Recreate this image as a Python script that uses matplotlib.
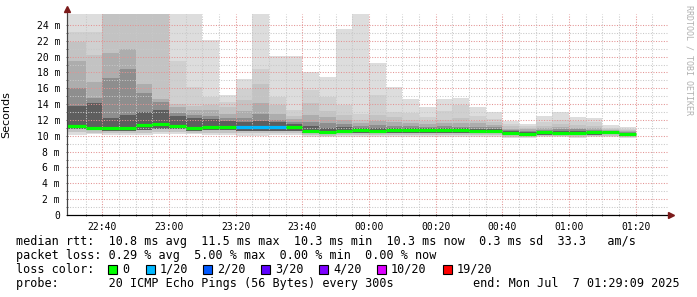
import numpy as np
import matplotlib.pyplot as plt
from matplotlib.lines import Line2D
from matplotlib.patches import Rectangle

# 5-minute columns, 22:30 .. 01:20 (x in minutes after 22:00)
x_left, x_right = 29.4, 209.7
edges = [x_left] + list(range(35, 201, 5))

# smoke layers: upper edges (outer -> inner) in ms
up1 = [25.4, 25.4, 25.4, 25.4, 25.4, 25.4, 25.4, 25.4, 22.1, 15.2, 17.2, 25.4, 20.1, 20.1, 18.1, 17.4, 23.5,
       25.4, 19.2, 16.2, 14.6, 13.7, 14.6, 14.8, 13.6, 13.0, 11.9, 11.5, 12.5, 13.0, 12.4, 12.3, 11.4, 11.1]
up2 = [23.1, 23.1, 25.4, 25.4, 25.4, 25.4, 19.5, 16.2, 14.9, 14.3, 15.9, 18.4, 14.9, 13.2, 15.8, 14.9, 13.9,
       12.7, 15.1, 13.0, 12.9, 12.4, 13.1, 13.9, 12.5, 12.1, 11.5, 11.2, 11.8, 12.0, 11.9, 11.8, 11.0, 10.9]
up3 = [21.8, 20.2, 25.4, 25.4, 25.4, 25.4, 14.0, 13.8, 13.9, 13.6, 14.5, 16.6, 13.9, 12.5, 14.2, 13.1, 12.6,
       12.0, 12.6, 12.4, 12.0, 11.9, 12.0, 12.2, 11.9, 11.7, 11.2, 11.0, 11.3, 11.5, 11.4, 11.3, 10.8, 10.7]
up4 = [19.5, 16.8, 20.5, 21.0, 16.6, 14.7, 13.6, 13.3, 13.3, 12.7, 13.1, 14.2, 12.8, 12.1, 12.6, 12.4, 12.0,
       11.6, 11.9, 11.8, 11.6, 11.5, 11.6, 11.6, 11.6, 11.4, 10.9, 10.8, 11.0, 11.1, 11.0, 11.0, 10.7, 10.6]
up5 = [16.1, 14.8, 17.3, 18.4, 15.4, 14.3, 12.9, 12.6, 12.5, 12.2, 12.3, 12.8, 12.0, 11.7, 11.8, 11.6, 11.5,
       11.3, 11.4, 11.3, 11.2, 11.1, 11.2, 11.1, 11.1, 11.1, 10.7, 10.6, 10.7, 10.8, 10.8, 10.7, 10.6, 10.5]
up6 = [13.8, 14.1, 12.3, 12.6, 13.0, 13.3, 12.5, 12.2, 12.1, 11.9, 11.7, 11.9, 11.7, 11.5, 11.2, 11.0, 11.1,
       11.0, 11.0, 11.0, 10.95, 10.95, 10.95, 10.95, 10.9, 10.9, 10.6, 10.5, 10.6, 10.6, 10.6, 10.6, 10.55, 10.4]
# lower edges
lo1 = [10.1, 10.2, 10.1, 10.1, 10.1, 10.2, 10.2, 10.2, 10.1, 10.1, 10.0, 10.0, 10.1, 10.1, 9.9, 9.8, 9.9,
       9.9, 9.9, 9.9, 9.9, 9.9, 9.9, 9.9, 9.9, 9.9, 9.7, 9.7, 9.8, 9.8, 9.7, 9.8, 9.8, 9.7]
lo3 = [10.5, 10.4, 10.3, 10.3, 10.4, 10.5, 10.5, 10.4, 10.4, 10.4, 10.3, 10.3, 10.3, 10.4, 10.1, 10.0, 10.1,
       10.1, 10.1, 10.1, 10.1, 10.1, 10.1, 10.1, 10.1, 10.1, 9.9, 9.9, 10.0, 10.0, 9.9, 10.0, 10.0, 9.9]
lo5 = [10.8, 10.7, 10.6, 10.6, 10.7, 10.8, 10.8, 10.6, 10.7, 10.7, 10.6, 10.6, 10.6, 10.6, 10.3, 10.2, 10.3,
       10.3, 10.3, 10.3, 10.3, 10.3, 10.3, 10.3, 10.3, 10.3, 10.1, 10.0, 10.1, 10.1, 10.1, 10.1, 10.2, 10.0]
median = [11.25, 10.97, 11.0, 11.0, 11.33, 11.55, 11.2, 10.97, 11.15, 11.12, 11.12, 11.12, 11.12, 11.1, 10.65,
          10.5, 10.65, 10.7, 10.65, 10.7, 10.7, 10.7, 10.7, 10.7, 10.65, 10.65, 10.4, 10.27, 10.45, 10.4, 10.4,
          10.45, 10.45, 10.27]
loss = [0] * 10 + [1, 1, 1] + [0] * 21

loss_levels = [0, 1, 2, 3, 4, 10, 19]
loss_labels = ['0', '1/20', '2/20', '3/20', '4/20', '10/20', '19/20']
loss_cols = ['#00ff00', '#00b8ff', '#0059ff', '#5e00ff', '#7e00ff', '#dd00ff', '#ff0000']

xticks = [40, 60, 80, 100, 120, 140, 160, 180, 200]
xticklabels = ['22:40', '23:00', '23:20', '23:40', '00:00', '00:20', '00:40', '01:00', '01:20']

W, H = 697, 297
fig = plt.figure(figsize=(W / 100, H / 100), dpi=100)
ax = fig.add_axes([67 / W, 82 / H, 601 / W, 200.7 / H])

mono = 'DejaVu Sans Mono'
greys = ['#dddddd', '#d0d0d0', '#c3c3c3', '#adadad', '#8e8e8e', '#5e5e5e']
layers = [up1, up2, up3, up4, up5, up6]
bases = [lo1, lo3, lo3, lo5, lo5, lo5]
for top, bot, c in zip(layers, bases, greys):
    ax.stairs(top, edges, baseline=bot, fill=True, color=c, lw=0, zorder=1)

colmap = dict(zip(loss_levels, loss_cols))
ax.hlines(median, edges[:-1], edges[1:], colors=[colmap[l] for l in loss], lw=2.3, zorder=3)

ax.set_xlim(x_left, x_right)
ax.set_ylim(0, 25.35)
ax.set_yticks(range(0, 25, 2))
ax.set_yticklabels(['0'] + ['%d m' % v for v in range(2, 25, 2)], family=mono, size=7)
ax.set_yticks(range(1, 25, 2), minor=True)
ax.set_xticks(xticks)
ax.set_xticklabels(xticklabels, family=mono, size=7)
ax.set_xticks(range(35, 210, 5), minor=True)
ax.set_axisbelow(False)
ax.grid(which='major', color='#e39393', ls=(0, (1, 1.5)), lw=0.75)
ax.grid(which='minor', color='#c8c8c8', ls=(0, (1, 1.5)), lw=0.75)
ax.tick_params(which='both', length=2, width=0.6, direction='inout', colors='#444444', labelcolor='black', pad=4)
for s in ['top', 'right']:
    ax.spines[s].set_visible(False)
ax.spines['left'].set_color('#444444')
ax.spines['bottom'].set_color('black')
ax.set_ylabel('Seconds', size=8)
ax.yaxis.set_label_coords(-56 / 601, 0.5)

# axis extensions with arrow heads
fig.add_artist(Line2D([67 / W, 67 / W], [1 - 215 / H, 1 - 9 / H], color='#444444', lw=0.8))
fig.add_artist(Line2D([67 / W, 670 / W], [1 - 215 / H, 1 - 215 / H], color='black', lw=0.8))
fig.add_artist(Line2D([67 / W], [1 - 9 / H], marker='^', color='#7b1a1a', ms=4, lw=0))
fig.add_artist(Line2D([671 / W], [1 - 215 / H], marker='>', color='#7b1a1a', ms=4, lw=0))

fig.text(689 / W, 1 - 5 / H, 'RRDTOOL / TOBI OETIKER', rotation=-90, family=mono, size=6,
         color='#b0b0b0', ha='center', va='top')

fs = 8.5
fig.text(16 / W, 1 - 241 / H,
         'median rtt:  10.8 ms avg  11.5 ms max  10.3 ms min  10.3 ms now  0.3 ms sd  33.3   am/s',
         family=mono, size=fs, va='center')
fig.text(16 / W, 1 - 255.5 / H, 'packet loss: 0.29 % avg  5.00 % max  0.00 % min  0.00 % now',
         family=mono, size=fs, va='center')
fig.text(16 / W, 1 - 269.5 / H, 'loss color:', family=mono, size=fs, va='center')
box_x = [108, 146, 203, 261, 319, 377, 443]
for bx, lab, c in zip(box_x, loss_labels, loss_cols):
    fig.add_artist(Rectangle((bx / W, 1 - 274 / H), 9 / W, 9 / H, facecolor=c, edgecolor='black', lw=0.8))
    fig.text((bx + 14) / W, 1 - 269.5 / H, lab, family=mono, size=fs, va='center')
fig.text(16 / W, 1 - 283.5 / H, 'probe:       20 ICMP Echo Pings (56 Bytes) every 300s',
         family=mono, size=fs, va='center')
fig.text(680 / W, 1 - 283.5 / H, 'end: Mon Jul  7 01:29:09 2025', family=mono, size=fs, va='center', ha='right')

fig.savefig('out.png', dpi=100, facecolor='white')
